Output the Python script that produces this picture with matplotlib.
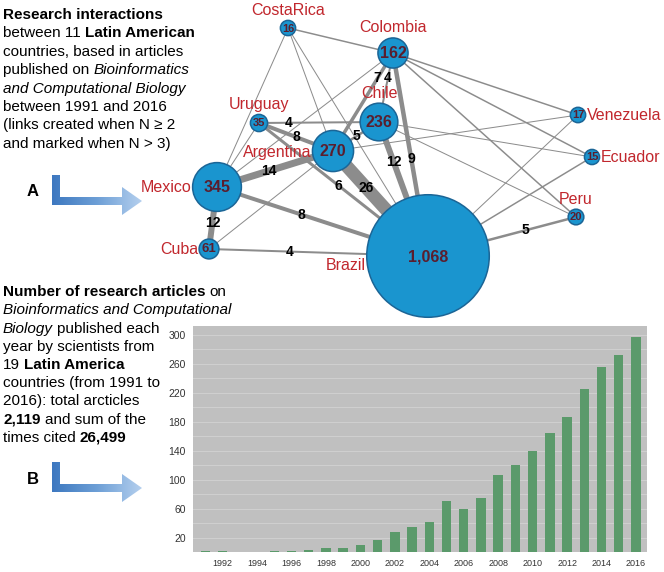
import numpy as np
import matplotlib
matplotlib.use('Agg')
import matplotlib.pyplot as plt
from matplotlib.patches import Circle, Polygon
from matplotlib.colors import LinearSegmentedColormap
from matplotlib import font_manager

# ---- data: network (panel A) ----
countries = ['Brazil', 'Mexico', 'Argentina', 'Chile', 'Colombia', 'Cuba',
             'Uruguay', 'Peru', 'Venezuela', 'CostaRica', 'Ecuador']
articles = [1068, 345, 270, 236, 162, 61, 35, 20, 17, 16, 15]

link_src = ['Argentina', 'Mexico', 'Chile', 'Mexico', 'Colombia', 'Mexico',
            'Uruguay', 'Colombia', 'Uruguay', 'Argentina', 'Brazil', 'Uruguay',
            'Colombia', 'Cuba',
            'CostaRica', 'CostaRica', 'CostaRica', 'CostaRica', 'Colombia',
            'Uruguay', 'Cuba', 'Colombia', 'Colombia', 'Colombia', 'Argentina',
            'Chile', 'Chile', 'Brazil', 'Brazil']
link_dst = ['Brazil', 'Argentina', 'Brazil', 'Cuba', 'Brazil', 'Brazil',
            'Argentina', 'Argentina', 'Brazil', 'Chile', 'Peru', 'Chile',
            'Chile', 'Brazil',
            'Colombia', 'Mexico', 'Argentina', 'Brazil', 'Mexico',
            'Mexico', 'Argentina', 'Venezuela', 'Ecuador', 'Peru', 'Venezuela',
            'Ecuador', 'Peru', 'Venezuela', 'Ecuador']
link_n = [26, 14, 12, 12, 9, 8, 8, 7, 6, 5, 5, 4, 4, 4,
          3, 2, 2, 2, 2, 2, 2, 3, 3, 3, 2, 2, 2, 2, 3]

# ---- data: articles per year (panel B) ----
years = list(range(1991, 2017))
counts = [1, 1, 0, 0, 1, 2, 3, 6, 6, 9, 16, 28, 34, 42, 70, 60, 75, 106, 120,
          140, 164, 186, 225, 255, 272, 297]
xtick_years = list(range(1992, 2017, 2))
yticks = list(range(20, 301, 40))

# ---- layout (pixel positions in the figure) ----
node_xy = {'Brazil': (428, 256), 'Mexico': (217, 187), 'Argentina': (333, 151),
           'Chile': (379, 122), 'Colombia': (393, 53), 'Cuba': (209, 249),
           'Uruguay': (259, 123), 'Peru': (576, 217), 'Venezuela': (578, 115),
           'CostaRica': (288, 28), 'Ecuador': (592, 157)}
name_side = {'Brazil': 'left', 'Mexico': 'left', 'Argentina': 'left',
             'Chile': 'top', 'Colombia': 'top', 'Cuba': 'left', 'Uruguay': 'top',
             'Peru': 'top', 'Venezuela': 'right', 'CostaRica': 'top',
             'Ecuador': 'right'}
# where along each link its number sits (fraction from src to dst)
label_t = {('Argentina', 'Brazil'): 0.35, ('Mexico', 'Argentina'): 0.45,
           ('Chile', 'Brazil'): 0.30, ('Mexico', 'Cuba'): 0.58,
           ('Colombia', 'Brazil'): 0.52, ('Mexico', 'Brazil'): 0.40,
           ('Uruguay', 'Argentina'): 0.5, ('Colombia', 'Argentina'): 0.26,
           ('Uruguay', 'Brazil'): 0.47, ('Argentina', 'Chile'): 0.5,
           ('Brazil', 'Peru'): 0.66, ('Uruguay', 'Chile'): 0.25,
           ('Colombia', 'Chile'): 0.36, ('Cuba', 'Brazil'): 0.37}

names = {f.name for f in font_manager.fontManager.ttflist}
SANS = ['Liberation Sans', 'DejaVu Sans']
NARROW = ['Liberation Sans Narrow', 'Liberation Sans'] if 'Liberation Sans Narrow' in names else SANS

RED = '#c1272d'
EDGE = '#8c8c8c'
NODE = '#1a95cf'
NODE_EC = '#1b6596'
NUM = '#5a1e2e'

W, H = 664, 572
fig = plt.figure(figsize=(W / 100, H / 100), dpi=100)
ax0 = fig.add_axes([0, 0, 1, 1])
ax0.set_xlim(0, W)
ax0.set_ylim(H, 0)
ax0.axis('off')

# links
for s, d, n in zip(link_src, link_dst, link_n):
    (x1, y1), (x2, y2) = node_xy[s], node_xy[d]
    ax0.plot([x1, x2], [y1, y2], color=EDGE, lw=0.36 * n,
             solid_capstyle='butt', zorder=1)
    if (s, d) in label_t:
        t = label_t[(s, d)]
        ax0.text(x1 + t * (x2 - x1), y1 + t * (y2 - y1), str(n),
                 family=NARROW, weight='bold', fontsize=10, color='black',
                 ha='center', va='center', zorder=5)

# nodes
for c, a in zip(countries, articles):
    x, y = node_xy[c]
    r = 6.8 + 0.051 * a
    ax0.add_patch(Circle((x, y), r, facecolor=NODE, edgecolor=NODE_EC, lw=1.1, zorder=3))
    fs = 11.5 if a > 100 else (9.5 if a > 50 else 8)
    ax0.text(x, y + 0.5, f'{a:,}', family=NARROW, weight='bold', fontsize=fs,
             color=NUM, ha='center', va='center', zorder=4)
    side = name_side[c]
    if side == 'top':
        ax0.text(x, y - r - 10, c, family=SANS, fontsize=11.5, color=RED,
                 ha='center', va='center', zorder=5)
    elif side == 'left':
        dy = 10 if c == 'Brazil' else 1
        ax0.text(x - r - 1, y + dy, c, family=SANS, fontsize=11.5, color=RED,
                 ha='right', va='center', zorder=5)
    else:
        ax0.text(x + r + 1.5, y, c, family=SANS, fontsize=11.5, color=RED,
                 ha='left', va='center', zorder=5)

# rich text blocks
renderer = fig.canvas.get_renderer()


def rich_line(x, y, runs, size=11):
    space = 0.278 * size * 100 / 72
    for txt, kind in runs:
        t = ax0.text(x, y, txt, family=SANS, fontsize=size,
                     fontweight='bold' if kind == 'b' else 'normal',
                     fontstyle='italic' if kind == 'i' else 'normal',
                     ha='left', va='baseline', zorder=6)
        x = t.get_window_extent(renderer).x1 + space


text_a = [[('Research interactions', 'b')],
          [('between 11', 'n'), ('Latin American', 'b')],
          [('countries, based in articles', 'n')],
          [('published on', 'n'), ('Bioinformatics', 'i')],
          [('and Computational Biology', 'i')],
          [('between 1991 and 2016', 'n')],
          [('(links created when N \u2265 2', 'n')],
          [('and marked when N > 3)', 'n')]]
text_b = [[('Number of research articles', 'b'), ('on', 'n')],
          [('Bioinformatics and Computational', 'i')],
          [('Biology', 'i'), ('published each', 'n')],
          [('year by scientists from', 'n')],
          [('19', 'n'), ('Latin America', 'b')],
          [('countries (from 1991 to', 'n')],
          [('2016): total arcticles', 'n')],
          [('2,119', 'b'), ('and sum of the', 'n')],
          [('times cited', 'n'), ('26,499', 'b')]]
for i, runs in enumerate(text_a):
    rich_line(3, 19 + 18.4 * i, runs)
for i, runs in enumerate(text_b):
    rich_line(3, 296 + 18.25 * i, runs)

# panel letters and L-shaped arrows
arrow_cmap = LinearSegmentedColormap.from_list('arr', ['#3d78c0', '#6d9fd6', '#b4cfee'])
for letter, y0 in [('A', 175), ('B', 462)]:
    ax0.text(33, y0 + 17, letter, family=SANS, weight='bold', fontsize=12,
             ha='center', va='center')
    x0 = 52
    pts = np.array([(0, 0), (8, 0), (8, 22), (70, 22), (70, 12), (90, 26),
                    (70, 40), (70, 30), (0, 30)], dtype=float)
    pts[:, 0] += x0
    pts[:, 1] += y0
    poly = Polygon(pts, closed=True, facecolor='none', edgecolor='none')
    ax0.add_patch(poly)
    grad = np.linspace(0, 1, 200).reshape(1, -1)
    im = ax0.imshow(grad, cmap=arrow_cmap, extent=(x0, x0 + 90, y0 + 40, y0),
                    aspect='auto', zorder=2)
    im.set_clip_path(poly)

ax0.set_xlim(0, W)
ax0.set_ylim(H, 0)

# ---- panel B bar chart ----
ax = fig.add_axes([193 / W, (H - 552) / H, 454 / W, 226 / H])
ax.set_facecolor('#c0c0c0')
ax.bar(years, counts, width=0.55, color='#5b9a6b', zorder=3)
ax.set_xlim(1990.28, 2016.64)
ax.set_ylim(0, 312)
for v in range(20, 301, 20):
    ax.axhline(v, color='#cfcfcf', lw=0.8, zorder=1)
ax.set_xticks(xtick_years)
ax.set_xticklabels([str(y) for y in xtick_years], family=NARROW, fontsize=6.5, color='#333333')
ax.set_yticks(yticks)
ax.set_yticklabels([str(v) for v in yticks], family=NARROW, fontsize=7.5, color='#333333')
ax.tick_params(length=0, pad=5)
for sp in ax.spines.values():
    sp.set_visible(False)

fig.savefig('out.png', dpi=100)
